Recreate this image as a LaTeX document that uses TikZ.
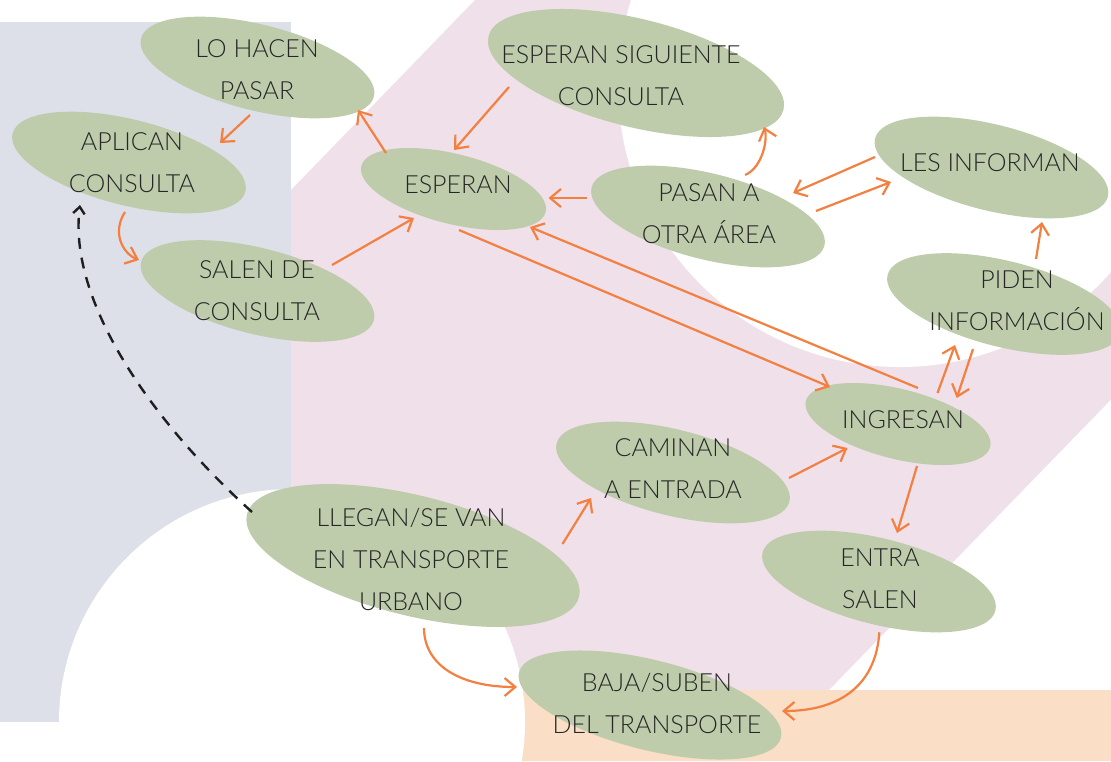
\documentclass[tikz,border=0pt]{standalone}
\usepackage{fontspec}
\setmainfont{Lato}[UprightFont=* Light]
\usetikzlibrary{shapes.geometric,arrows.meta,calc}
\definecolor{sage}{RGB}{190,204,172}
\definecolor{pinkbg}{RGB}{240,224,234}
\definecolor{greybg}{RGB}{222,224,233}
\definecolor{peachbg}{RGB}{250,222,197}
\definecolor{orng}{RGB}{243,128,64}
\definecolor{txtc}{RGB}{38,38,38}
\definecolor{dark}{RGB}{30,30,30}
\begin{document}
\begin{tikzpicture}[x=1pt,y=-1pt,
  blob/.style 2 args={ellipse, fill=sage, inner sep=0pt, rotate=-14, minimum width=#1, minimum height=#2},
  lbl/.style={align=center, inner sep=0pt, text=txtc, font=\fontsize{25}{42}\selectfont},
  con/.style={draw=orng, line width=2.2pt, -{Straight Barb[angle=80:14pt]}},
  dsh/.style={draw=dark, line width=2.4pt, dash pattern=on 11pt off 9pt, -{Straight Barb[angle=80:9pt]}}]
\useasboundingbox (0,0) rectangle (1111,761);
\clip (0,0) rectangle (1111,761);
% backgrounds
\fill[pinkbg] (475,0) -- (1499,0) -- (760,761) -- (291,761) -- (291,190) -- cycle;
\fill[white] (900,85) circle[radius=282];
\fill[greybg] (0,22) rectangle (291,722);
\fill[peachbg] (480,690) rectangle (1111,761);
\fill[white] (292,722) circle[radius=233];
% ellipses
\node[blob={240pt}{86pt}] (lo) at (257.5,67.5) {};
\node[blob={240pt}{86pt}] (apl) at (129,162.5) {};
\node[blob={240pt}{86pt}] (sal) at (257.5,291) {};
\node[blob={190pt}{70pt}] (esp) at (453.5,189) {};
\node[blob={304pt}{108pt}] (sig) at (636,73) {};
\node[blob={240pt}{86pt}] (pas) at (708,216.5) {};
\node[blob={240pt}{86pt}] (inf) at (991.5,167.5) {};
\node[blob={240pt}{86pt}] (pid) at (1004,304) {};
\node[blob={190pt}{70pt}] (ing) at (898,424) {};
\node[blob={240pt}{86pt}] (cam) at (673,472.5) {};
\node[blob={240pt}{86pt}] (ent) at (879,581.5) {};
\node[blob={270pt}{90pt}] (baj) at (650,705) {};
\node[blob={342pt}{120pt}] (lle) at (413,555.5) {};
% labels
\node[lbl] (lot) at (257,69.5) {LO HACEN\\PASAR};
\node[lbl] (aplt) at (132,162.5) {APLICAN\\CONSULTA};
\node[lbl] (salt) at (257,291) {SALEN DE\\CONSULTA};
\node[lbl] (espt) at (458,185) {ESPERAN};
\node[lbl] (sigt) at (621,76) {ESPERAN SIGUIENTE\\CONSULTA};
\node[lbl] (past) at (709,214) {PASAN A\\OTRA ÁREA};
\node[lbl] (inft) at (990,163) {LES INFORMAN};
\node[lbl] (pidt) at (1017,301) {PIDEN\\INFORMACIÓN};
\node[lbl] (ingt) at (903,420) {INGRESAN};
\node[lbl] (camt) at (673,469) {CAMINAN\\A ENTRADA};
\node[lbl] (entt) at (880,578.5) {ENTRA\\SALEN};
\node[lbl] (bajt) at (657,703.5) {BAJA/SUBEN\\DEL TRANSPORTE};
\node[lbl] (llet) at (411,560) {LLEGAN/SE VAN\\EN TRANSPORTE\\URBANO};
% connectors
\draw[con] ($(lo)+(-7.5,47.5)$) -- ($(apl)+(91,-19.5)$);
\draw[con] ($(apl)+(-4,49.5)$) .. controls (112,232) and (122,253) .. ($(sal)+(-118.5,-31)$);
\draw[con] ($(sal)+(74.5,-26)$) -- ($(esp)+(-39.5,29)$);
\draw[con] ($(esp)+(-67.5,-36)$) -- ($(lo)+(100.5,42.5)$);
\draw[con] ($(sig)+(-127,14)$) -- ($(esp)+(0.5,-39)$);
\draw[con] ($(pas)+(-121,-18.5)$) -- ($(esp)+(95,9)$);
\draw[con] ($(pas)+(37,-41.5)$) .. controls (762,168) and (768,140) .. ($(sig)+(128,54)$);
\draw[con] ($(inf)+(-116.5,-10.5)$) -- ($(pas)+(85,-23.5)$);
\draw[con] ($(pas)+(108,-5.5)$) -- ($(inf)+(-100.5,14.5)$);
\draw[con] ($(pid)+(32,-45)$) -- ($(inf)+(50.5,54.5)$);
\draw[con] ($(esp)+(5.5,41)$) -- ($(ing)+(-68,-37)$);
\draw[con] ($(ing)+(20,-36)$) -- ($(esp)+(76.5,38)$);
\draw[con] ($(ing)+(39.5,-31)$) -- ($(pid)+(-49,41)$);
\draw[con] ($(pid)+(-31,45)$) -- ($(ing)+(58.7,-26)$);
\draw[con] ($(cam)+(116,5.5)$) -- ($(ing)+(-50.5,24)$);
\draw[con] ($(lle)+(149.5,-11.5)$) -- ($(cam)+(-82,25.5)$);
\draw[con] ($(ing)+(19,42)$) -- ($(ent)+(18,-48.5)$);
\draw[con] ($(ent)+(0.3,50.8)$) .. controls (876,685) and (840,711) .. ($(baj)+(132,6)$);
\draw[con] ($(lle)+(11,72.5)$) .. controls (424,665) and (460,687) .. ($(baj)+(-133,-18)$);
\draw[dsh] ($(lle)+(-161,-43.5)$) .. controls (150,420) and (68,300) .. ($(apl)+(-49,42.5)$);
\end{tikzpicture}
\end{document}
